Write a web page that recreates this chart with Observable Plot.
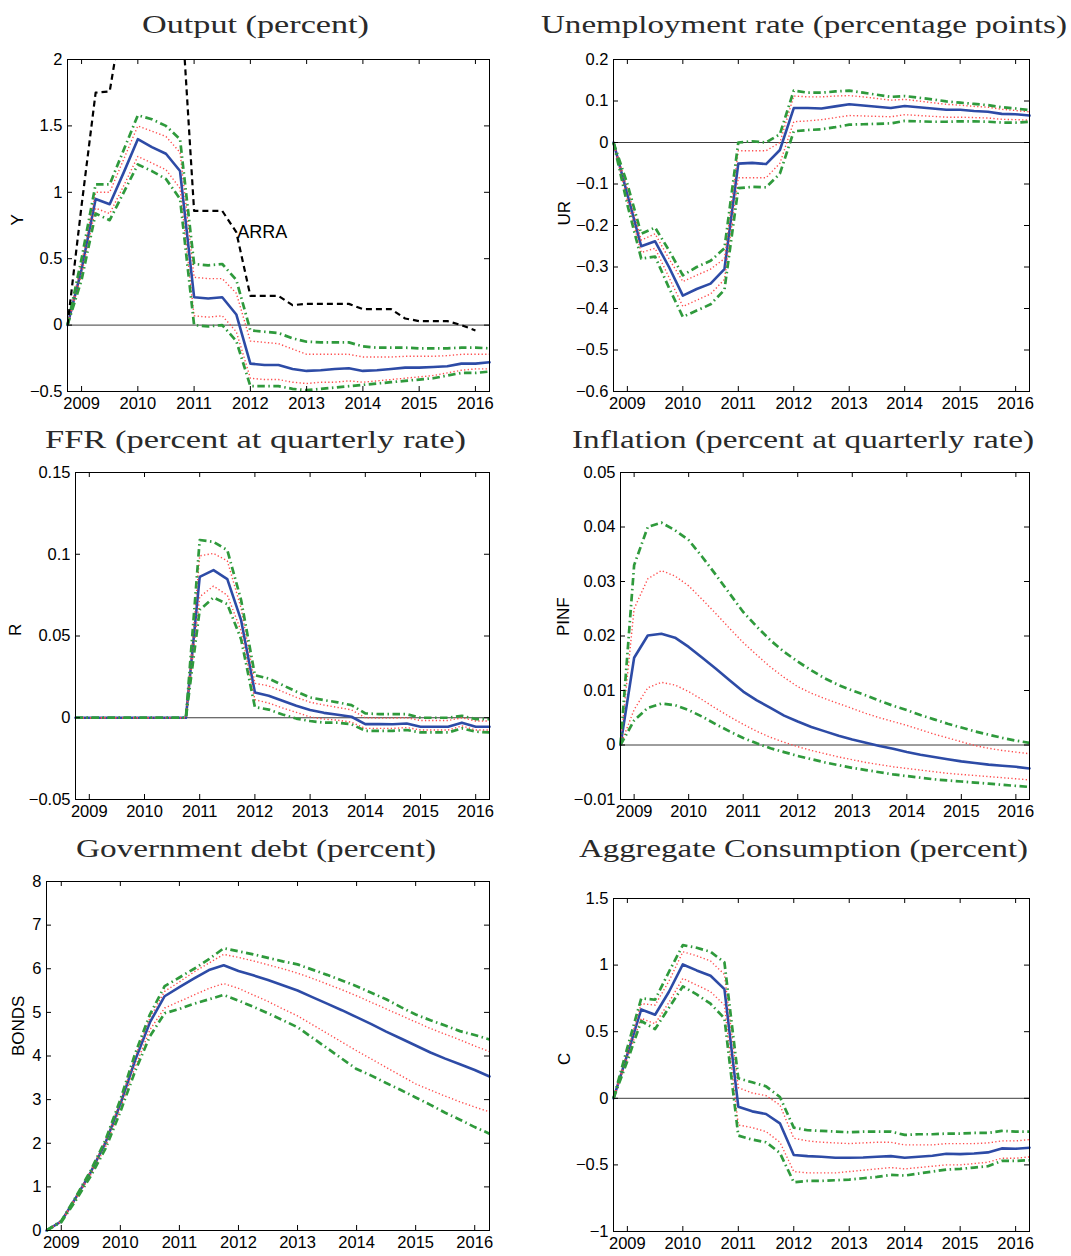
<!DOCTYPE html>
<html><head><meta charset="utf-8">
<script src="https://cdn.jsdelivr.net/npm/d3@7"></script>
<script src="https://cdn.jsdelivr.net/npm/@observablehq/plot@0.6"></script>
<style>
body{margin:0;background:#fff;}
#root{position:relative;width:1071px;height:1256px;overflow:hidden;background:#fff;}
.panel{position:absolute;}
.title{position:absolute;white-space:nowrap;font-family:"Liberation Serif","Times New Roman",serif;font-size:25px;line-height:25px;color:#2a2a2a;transform-origin:0 0;}
</style></head><body><div id="root"></div>
<script>
// ---- x categories (quarters) and tick labels ----
const quarters = [2008.75, 2009, 2009.25, 2009.5, 2009.75, 2010, 2010.25, 2010.5, 2010.75, 2011, 2011.25, 2011.5, 2011.75, 2012, 2012.25, 2012.5, 2012.75, 2013, 2013.25, 2013.5, 2013.75, 2014, 2014.25, 2014.5, 2014.75, 2015, 2015.25, 2015.5, 2015.75, 2016, 2016.25];
const yearTicks = [2009, 2010, 2011, 2012, 2013, 2014, 2015, 2016];

// ---- Output (Y) ----
const outMid = [0, 0.42, 0.95, 0.91, 1.15, 1.40, 1.34, 1.29, 1.16, 0.21, 0.20, 0.21, 0.08, -0.29, -0.30, -0.30, -0.33, -0.345, -0.34, -0.33, -0.325, -0.345, -0.34, -0.33, -0.32, -0.32, -0.315, -0.31, -0.29, -0.29, -0.28];
const outRedHi = [0, 0.47, 1.0, 1.0, 1.25, 1.5, 1.46, 1.42, 1.3, 0.36, 0.35, 0.35, 0.24, -0.12, -0.13, -0.14, -0.18, -0.22, -0.22, -0.22, -0.22, -0.24, -0.24, -0.24, -0.235, -0.235, -0.235, -0.23, -0.22, -0.22, -0.22];
const outRedLo = [0, 0.38, 0.88, 0.84, 1.05, 1.27, 1.22, 1.17, 1.03, 0.07, 0.06, 0.07, -0.05, -0.40, -0.41, -0.41, -0.43, -0.44, -0.43, -0.43, -0.42, -0.43, -0.42, -0.41, -0.40, -0.39, -0.38, -0.36, -0.34, -0.33, -0.33];
const outGreenHi = [0, 0.5, 1.06, 1.06, 1.32, 1.58, 1.55, 1.5, 1.4, 0.46, 0.45, 0.46, 0.34, -0.04, -0.05, -0.06, -0.1, -0.125, -0.13, -0.13, -0.13, -0.16, -0.17, -0.17, -0.17, -0.175, -0.175, -0.175, -0.17, -0.17, -0.175];
const outGreenLo = [0, 0.34, 0.84, 0.79, 1.0, 1.21, 1.16, 1.1, 0.95, 0.0, -0.01, 0.0, -0.12, -0.46, -0.46, -0.46, -0.48, -0.49, -0.48, -0.47, -0.46, -0.45, -0.44, -0.43, -0.42, -0.41, -0.40, -0.38, -0.36, -0.36, -0.35];
const outARRA = [0, 0.9, 1.75, 1.76, 2.4, 3.0, 3.2, 3.0, 2.57, 0.86, 0.86, 0.86, 0.7, 0.22, 0.22, 0.22, 0.15, 0.16, 0.16, 0.16, 0.16, 0.12, 0.12, 0.12, 0.05, 0.03, 0.03, 0.03, 0.0, -0.04];
const outYTicks = [-0.5, 0, 0.5, 1, 1.5, 2];

// ---- Unemployment rate (UR) ----
const urMid = [0, -0.125, -0.25, -0.238, -0.30, -0.369, -0.353, -0.34, -0.305, -0.051, -0.049, -0.052, -0.018, 0.083, 0.083, 0.082, 0.087, 0.092, 0.089, 0.086, 0.083, 0.088, 0.085, 0.082, 0.079, 0.079, 0.076, 0.074, 0.069, 0.068, 0.065];
const urRedHi = [0, -0.11, -0.235, -0.22, -0.28, -0.335, -0.32, -0.305, -0.28, -0.02, -0.02, -0.02, 0.0, 0.112, 0.11, 0.11, 0.112, 0.113, 0.11, 0.106, 0.102, 0.104, 0.1, 0.096, 0.092, 0.09, 0.087, 0.085, 0.08, 0.077, 0.074];
const urRedLo = [0, -0.14, -0.265, -0.255, -0.325, -0.395, -0.38, -0.365, -0.33, -0.085, -0.085, -0.085, -0.05, 0.05, 0.052, 0.055, 0.06, 0.065, 0.064, 0.063, 0.062, 0.067, 0.065, 0.063, 0.061, 0.061, 0.06, 0.059, 0.056, 0.055, 0.054];
const urGreenHi = [0, -0.1, -0.22, -0.205, -0.26, -0.32, -0.30, -0.285, -0.255, 0.0, 0.003, 0.0, 0.02, 0.125, 0.12, 0.12, 0.123, 0.125, 0.12, 0.115, 0.11, 0.112, 0.108, 0.104, 0.099, 0.096, 0.093, 0.09, 0.085, 0.082, 0.078];
const urGreenLo = [0, -0.15, -0.28, -0.275, -0.35, -0.42, -0.405, -0.39, -0.355, -0.11, -0.107, -0.108, -0.075, 0.027, 0.03, 0.032, 0.037, 0.043, 0.044, 0.045, 0.046, 0.052, 0.051, 0.05, 0.05, 0.051, 0.051, 0.05, 0.048, 0.048, 0.05];
const urYTicks = [-0.6, -0.5, -0.4, -0.3, -0.2, -0.1, 0, 0.1, 0.2];

// ---- FFR (R) ----
const ffrMid = [0, 0, 0, 0, 0, 0, 0, 0, 0, 0.0862, 0.0903, 0.0848, 0.0597, 0.0155, 0.0135, 0.0104, 0.0073, 0.0047, 0.003, 0.0018, 0.0006, -0.0039, -0.0039, -0.004, -0.0035, -0.0055, -0.0055, -0.0055, -0.003, -0.0055, -0.0055];
const ffrRedHi = [0, 0, 0, 0, 0, 0, 0, 0, 0, 0.099, 0.1005, 0.096, 0.067, 0.021, 0.0195, 0.016, 0.0125, 0.0095, 0.0078, 0.0063, 0.0048, 0.0, -0.0002, -0.0002, 0.0, -0.0017, -0.0017, -0.0017, 0.0, -0.002, -0.002];
const ffrRedLo = [0, 0, 0, 0, 0, 0, 0, 0, 0, 0.074, 0.0805, 0.075, 0.053, 0.011, 0.009, 0.006, 0.0033, 0.0005, -0.0008, -0.0015, -0.0027, -0.0065, -0.0065, -0.0065, -0.006, -0.0075, -0.0075, -0.0075, -0.005, -0.0075, -0.0075];
const ffrGreenHi = [0, 0, 0, 0, 0, 0, 0, 0, 0, 0.1087, 0.1076, 0.1025, 0.072, 0.026, 0.024, 0.02, 0.016, 0.0124, 0.0108, 0.0094, 0.0077, 0.0027, 0.0022, 0.0022, 0.0022, 0, 0, 0, 0.0012, -0.0008, -0.0008];
const ffrGreenLo = [0, 0, 0, 0, 0, 0, 0, 0, 0, 0.066, 0.0735, 0.0695, 0.048, 0.0065, 0.005, 0.002, -0.0005, -0.002, -0.003, -0.003, -0.004, -0.008, -0.008, -0.008, -0.0075, -0.009, -0.009, -0.009, -0.0065, -0.0085, -0.009];
const ffrYTicks = [-0.05, 0, 0.05, 0.1, 0.15];

// ---- Inflation (PINF) ----
const pinfMid = [0, 0.016, 0.0201, 0.0204, 0.0197, 0.018, 0.016, 0.014, 0.0119, 0.0098, 0.0082, 0.0068, 0.0054, 0.0043, 0.0033, 0.0025, 0.0017, 0.001, 0.0004, -0.0002, -0.0007, -0.0013, -0.0018, -0.0022, -0.0026, -0.003, -0.0033, -0.0036, -0.0038, -0.004, -0.0043];
const pinfRedHi = [0, 0.025, 0.0305, 0.032, 0.031, 0.0292, 0.0267, 0.0241, 0.0214, 0.0188, 0.0165, 0.0143, 0.0124, 0.0107, 0.0095, 0.0085, 0.0076, 0.0067, 0.0058, 0.005, 0.0043, 0.0036, 0.0028, 0.002, 0.0013, 0.0006, -0.0001, -0.0006, -0.001, -0.0013, -0.0016];
const pinfRedLo = [0, 0.0065, 0.0105, 0.0115, 0.011, 0.0098, 0.0083, 0.0067, 0.0052, 0.0038, 0.0025, 0.0014, 0.0005, -0.0003, -0.001, -0.0016, -0.0022, -0.0027, -0.0032, -0.0036, -0.004, -0.0043, -0.0046, -0.0049, -0.0052, -0.0054, -0.0056, -0.0058, -0.006, -0.0062, -0.0064];
const pinfGreenHi = [0, 0.033, 0.040, 0.0408, 0.0394, 0.0376, 0.0345, 0.0312, 0.0278, 0.0244, 0.0217, 0.0192, 0.0171, 0.0153, 0.0137, 0.0122, 0.011, 0.01, 0.0091, 0.0081, 0.0072, 0.0064, 0.0055, 0.0047, 0.0039, 0.0032, 0.0025, 0.0019, 0.0013, 0.0008, 0.0004];
const pinfGreenLo = [0, 0.0045, 0.0068, 0.0076, 0.0073, 0.0064, 0.0052, 0.0038, 0.0025, 0.0013, 0.0003, -0.0006, -0.0013, -0.002, -0.0026, -0.0032, -0.0037, -0.0042, -0.0046, -0.005, -0.0054, -0.0057, -0.006, -0.0063, -0.0065, -0.0067, -0.0069, -0.0071, -0.0073, -0.0075, -0.0077];
const pinfYTicks = [-0.01, 0, 0.01, 0.02, 0.03, 0.04, 0.05];

// ---- Government debt (BONDS) ----
const bondsMid = [0, 0.21, 0.76, 1.34, 2.02, 2.9, 3.9, 4.77, 5.37, 5.58, 5.78, 5.97, 6.08, 5.95, 5.85, 5.74, 5.62, 5.50, 5.35, 5.2, 5.05, 4.89, 4.73, 4.56, 4.40, 4.24, 4.08, 3.94, 3.81, 3.68, 3.53];
const bondsRedHi = [0, 0.21, 0.77, 1.36, 2.05, 2.96, 3.98, 4.87, 5.48, 5.7, 5.93, 6.13, 6.33, 6.26, 6.18, 6.09, 6.0, 5.9, 5.78, 5.65, 5.52, 5.38, 5.23, 5.08, 4.93, 4.78, 4.63, 4.5, 4.37, 4.23, 4.1];
const bondsRedLo = [0, 0.2, 0.72, 1.28, 1.92, 2.8, 3.75, 4.6, 5.1, 5.25, 5.4, 5.55, 5.66, 5.55, 5.4, 5.25, 5.08, 4.92, 4.72, 4.52, 4.32, 4.12, 3.93, 3.74, 3.55, 3.36, 3.22, 3.08, 2.95, 2.83, 2.72];
const bondsGreenHi = [0, 0.22, 0.78, 1.38, 2.08, 3.0, 4.05, 4.95, 5.6, 5.8, 6.0, 6.22, 6.47, 6.4, 6.33, 6.25, 6.17, 6.1, 5.98, 5.86, 5.73, 5.6, 5.45, 5.3, 5.12, 4.95, 4.82, 4.7, 4.57, 4.48, 4.38];
const bondsGreenLo = [0, 0.19, 0.7, 1.25, 1.88, 2.72, 3.65, 4.45, 4.98, 5.08, 5.2, 5.3, 5.4, 5.27, 5.13, 4.98, 4.82, 4.66, 4.42, 4.18, 3.94, 3.7, 3.55, 3.38, 3.22, 3.05, 2.88, 2.7, 2.54, 2.37, 2.22];
const bondsYTicks = [0, 1, 2, 3, 4, 5, 6, 7, 8];

// ---- Aggregate Consumption (C) ----
const cMid = [0, 0.33, 0.667, 0.627, 0.8, 1.005, 0.96, 0.92, 0.82, -0.063, -0.098, -0.118, -0.188, -0.426, -0.434, -0.439, -0.446, -0.446, -0.444, -0.439, -0.434, -0.446, -0.439, -0.431, -0.416, -0.419, -0.414, -0.406, -0.376, -0.379, -0.371];
const cRedHi = [0, 0.35, 0.71, 0.7, 0.88, 1.1, 1.07, 1.03, 0.93, 0.08, 0.04, 0.02, -0.05, -0.3, -0.32, -0.33, -0.335, -0.34, -0.335, -0.33, -0.33, -0.35, -0.35, -0.35, -0.34, -0.34, -0.34, -0.335, -0.32, -0.32, -0.31];
const cRedLo = [0, 0.3, 0.6, 0.56, 0.72, 0.9, 0.85, 0.8, 0.7, -0.2, -0.22, -0.25, -0.33, -0.55, -0.56, -0.56, -0.56, -0.55, -0.54, -0.53, -0.52, -0.53, -0.52, -0.51, -0.5, -0.5, -0.49, -0.48, -0.45, -0.45, -0.44];
const cGreenHi = [0, 0.38, 0.75, 0.74, 0.95, 1.15, 1.13, 1.1, 1.02, 0.15, 0.12, 0.09, 0.01, -0.22, -0.24, -0.245, -0.25, -0.255, -0.25, -0.25, -0.25, -0.275, -0.27, -0.27, -0.265, -0.265, -0.26, -0.26, -0.245, -0.25, -0.25];
const cGreenLo = [0, 0.28, 0.58, 0.52, 0.68, 0.84, 0.78, 0.71, 0.6, -0.28, -0.31, -0.33, -0.41, -0.63, -0.62, -0.62, -0.615, -0.61, -0.6, -0.59, -0.575, -0.58, -0.565, -0.55, -0.535, -0.53, -0.52, -0.51, -0.47, -0.47, -0.465];
const cYTicks = [-1, -0.5, 0, 0.5, 1, 1.5];

// ---- styles ----
const BLUE = "#2d4ba6", RED = "#ff4d4d", GREEN = "#2f9a3c";
const root = document.getElementById("root");
const toRows = arr => arr.map((v, i) => ({q: quarters[i], v}));
const fmtY = d3.format("~g");

function panel(cfg) {
  const {left, top, width, height, mt, mr, mb, ml, yTicks, label, labelDx, s, extra = []} = cfg;
  const ph = height - mt - mb, pw = width - ml - mr;
  const tick = 5;
  const dotted = {stroke: RED, strokeWidth: 1.4, strokeDasharray: "1.3,2.3", strokeLinecap: "butt"};
  const dashdot = {stroke: GREEN, strokeWidth: 2.7, strokeDasharray: "7.5,3.5,1.5,3.5", strokeLinecap: "butt"};
  const marks = [
    Plot.ruleY([0], {stroke: "#3c3c3c", strokeWidth: 1}),
    Plot.line(toRows(s.mid), {x: "q", y: "v", stroke: BLUE, strokeWidth: 2.6}),
    Plot.line(toRows(s.redHi), {x: "q", y: "v", ...dotted}),
    Plot.line(toRows(s.redLo), {x: "q", y: "v", ...dotted}),
    Plot.line(toRows(s.greenHi), {x: "q", y: "v", ...dashdot}),
    Plot.line(toRows(s.greenLo), {x: "q", y: "v", ...dashdot}),
    ...extra,
    Plot.frame({stroke: "black", strokeWidth: 1}),
    Plot.ruleX(yearTicks, {insetTop: ph - tick, stroke: "black", strokeWidth: 1}),
    Plot.ruleX(yearTicks, {insetBottom: ph - tick, stroke: "black", strokeWidth: 1}),
    Plot.ruleY(yTicks, {insetLeft: pw - tick, stroke: "black", strokeWidth: 1}),
    Plot.ruleY(yTicks, {insetRight: pw - tick, stroke: "black", strokeWidth: 1}),
    Plot.axisX({ticks: yearTicks, tickSize: 0, tickPadding: 6, tickFormat: d => String(d), label: null}),
    Plot.axisY({ticks: yTicks, tickSize: 0, tickPadding: 5, tickFormat: fmtY, label: null}),
    Plot.text([label], {frameAnchor: "left", dx: labelDx, rotate: -90, fontSize: 17, fill: "black"})
  ];
  const svg = Plot.plot({
    width, height, marginTop: mt, marginRight: mr, marginBottom: mb, marginLeft: ml,
    x: {domain: [quarters[0], quarters[quarters.length - 1]]},
    y: {domain: [yTicks[0], yTicks[yTicks.length - 1]]},
    style: {fontFamily: "'Liberation Sans', Arial, sans-serif", fontSize: "16.5px", color: "black", background: "transparent", overflow: "visible"},
    marks
  });
  svg.classList.add("panel");
  svg.style.left = left + "px";
  svg.style.top = top + "px";
  root.appendChild(svg);
}

const arraRows = toRows(outARRA);
panel({left: 0, top: 40, width: 535, height: 390, mt: 19, mr: 46, mb: 39, ml: 67,
  yTicks: outYTicks, label: "Y", labelDx: -50,
  s: {mid: outMid, redHi: outRedHi, redLo: outRedLo, greenHi: outGreenHi, greenLo: outGreenLo},
  extra: [
    Plot.line(arraRows, {x: "q", y: "v", stroke: "black", strokeWidth: 2.2, strokeDasharray: "6,4", strokeLinecap: "butt", clip: true}),
    Plot.text([arraRows[12]], {x: "q", y: "v", text: () => "ARRA", textAnchor: "start", dx: 1, fontSize: 18, fill: "black"})
  ]});
panel({left: 535, top: 40, width: 536, height: 390, mt: 19, mr: 42, mb: 39, ml: 78,
  yTicks: urYTicks, label: "UR", labelDx: -49,
  s: {mid: urMid, redHi: urRedHi, redLo: urRedLo, greenHi: urGreenHi, greenLo: urGreenLo}});
panel({left: 0, top: 455, width: 535, height: 390, mt: 17, mr: 46, mb: 46, ml: 75,
  yTicks: ffrYTicks, label: "R", labelDx: -60,
  s: {mid: ffrMid, redHi: ffrRedHi, redLo: ffrRedLo, greenHi: ffrGreenHi, greenLo: ffrGreenLo}});
panel({left: 535, top: 455, width: 536, height: 390, mt: 17, mr: 42, mb: 46, ml: 85,
  yTicks: pinfYTicks, label: "PINF", labelDx: -57,
  s: {mid: pinfMid, redHi: pinfRedHi, redLo: pinfRedLo, greenHi: pinfGreenHi, greenLo: pinfGreenLo}});
panel({left: 0, top: 862, width: 535, height: 394, mt: 19, mr: 46, mb: 26, ml: 46,
  yTicks: bondsYTicks, label: "BONDS", labelDx: -28,
  s: {mid: bondsMid, redHi: bondsRedHi, redLo: bondsRedLo, greenHi: bondsGreenHi, greenLo: bondsGreenLo}});
panel({left: 535, top: 862, width: 536, height: 394, mt: 36, mr: 42, mb: 25, ml: 78,
  yTicks: cYTicks, label: "C", labelDx: -49,
  s: {mid: cMid, redHi: cRedHi, redLo: cRedLo, greenHi: cGreenHi, greenLo: cGreenLo}});

// ---- panel titles (HTML, stretched to match) ----
const titleText = ["Output (percent)", "Unemployment rate (percentage points)", "FFR (percent at quarterly rate)", "Inflation (percent at quarterly rate)", "Government debt (percent)", "Aggregate Consumption (percent)"];
const titleCx = [255.5, 803.5, 255.5, 803, 256, 803.5];
const titleW = [227, 526, 421, 462, 360, 449];
const titleBase = [33, 33, 448, 448, 857, 857];
titleText.forEach((t, i) => {
  const div = document.createElement("div");
  div.className = "title";
  div.textContent = t;
  root.appendChild(div);
  const w = div.getBoundingClientRect().width;
  const k = titleW[i] / w;
  div.style.left = (titleCx[i] - titleW[i] / 2) + "px";
  div.style.top = (titleBase[i] - 21) + "px";
  div.style.transform = `scaleX(${k})`;
});
</script>
</body></html>
